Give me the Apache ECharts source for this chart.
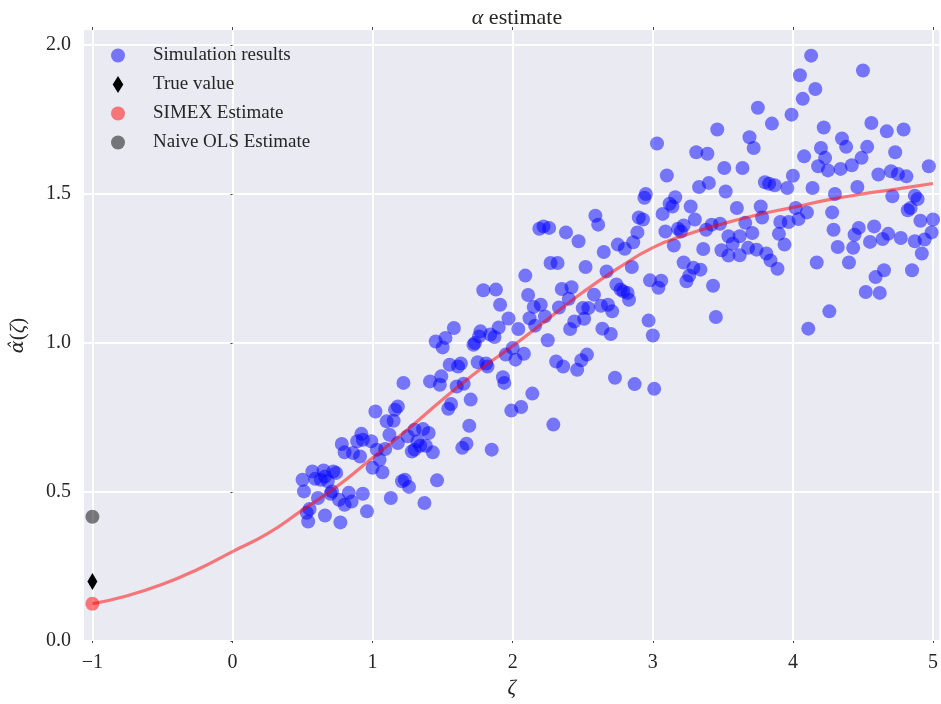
<!DOCTYPE html>
<html>
<head>
<meta charset="utf-8">
<script src="https://cdn.jsdelivr.net/npm/echarts@6/dist/echarts.min.js"></script>
<style>html,body{margin:0;padding:0;background:#fff}#c{width:941px;height:704px}</style>
</head>
<body>
<div id="c"></div>
<script>
// ---- data ----
const xTicks = [-1, 0, 1, 2, 3, 4, 5];
const yTicks = [0, 0.5, 1.0, 1.5, 2.0];

const simZeta = [
1.22,1.41,1.48,1.49,1.02,1.18,1.16,1.10,1.15,1.12,0.92,0.89,0.99,0.93,0.78,0.80,0.86,0.91,1.03,1.09,
1.05,1.00,1.07,1.18,1.25,1.30,1.36,1.40,1.32,1.34,1.38,1.43,1.28,1.30,1.21,1.23,1.26,1.46,1.13,1.37,
0.93,0.96,0.83,0.85,0.80,0.76,0.77,0.66,0.54,0.53,0.55,0.61,0.70,0.71,0.50,0.51,0.57,0.59,0.63,0.65,
0.68,0.72,0.74,0.66,
2.19,2.22,2.26,2.38,2.47,2.27,2.32,2.52,2.09,1.79,1.88,1.91,2.11,2.35,2.42,2.40,2.15,2.20,2.33,2.50,
2.54,2.12,2.23,1.97,2.16,2.44,2.51,2.41,2.04,1.90,1.77,1.76,1.84,1.87,1.58,1.52,1.45,1.50,1.72,1.73,
2.25,2.00,1.95,2.02,2.08,1.75,1.81,1.82,1.55,1.61,1.63,1.60,1.65,1.93,1.94,2.31,2.36,2.46,2.49,2.53,
1.70,1.56,1.54,2.14,2.06,1.99,1.69,2.29,1.67,1.64,1.85,
3.46,3.03,3.31,3.39,3.51,3.10,3.33,3.40,3.52,2.95,2.94,3.16,3.12,3.14,3.07,3.27,3.30,2.59,2.61,2.90,
2.93,2.89,2.86,2.75,2.80,2.65,3.09,3.18,3.20,3.22,3.38,3.42,3.48,3.54,3.15,3.36,3.49,3.54,2.67,2.85,
3.22,3.29,3.34,3.26,3.24,2.98,3.06,3.04,3.43,2.74,2.77,2.79,2.82,2.83,2.58,2.63,2.68,2.71,2.97,3.00,
2.64,2.70,3.45,2.73,2.87,3.01,
4.13,4.50,4.05,4.16,4.07,3.75,3.99,3.85,4.22,4.56,4.67,4.79,3.69,3.72,4.35,4.38,4.20,4.53,4.73,4.08,
4.23,4.49,4.18,4.25,4.34,4.42,3.64,4.00,4.61,4.70,4.75,4.81,4.97,3.80,3.83,3.87,3.96,4.14,4.46,4.30,
4.71,4.87,4.89,
3.60,3.77,3.78,4.02,4.10,4.04,3.97,3.91,4.28,4.29,4.82,4.84,4.91,5.00,3.66,3.62,3.71,3.90,3.94,3.57,
3.62,3.68,3.74,3.81,3.84,3.89,4.47,4.44,4.58,4.68,4.64,4.55,4.77,4.87,4.94,4.99,4.92,4.32,4.43,4.17,
4.40,4.65,4.59,4.85,4.52,4.62,4.26,4.11
];
const simAlpha = [
0.866,0.871,0.860,0.888,0.770,0.787,0.776,0.737,0.739,0.692,0.695,0.670,0.670,0.675,0.661,0.633,0.631,0.619,0.642,0.644,
0.608,0.581,0.566,0.664,0.687,0.709,0.711,0.698,0.670,0.655,0.655,0.633,0.636,0.642,0.536,0.541,0.517,0.539,0.480,0.463,
0.494,0.435,0.497,0.468,0.457,0.474,0.398,0.421,0.401,0.430,0.443,0.480,0.494,0.502,0.541,0.502,0.569,0.544,0.541,0.572,
0.536,0.569,0.564,0.552,
1.383,1.391,1.386,1.371,1.341,1.268,1.268,1.255,1.226,1.177,1.179,1.128,1.161,1.181,1.187,1.148,1.121,1.128,1.119,1.117,
1.117,1.083,1.089,1.082,1.058,1.072,1.081,1.047,1.047,1.052,1.039,1.022,1.028,1.020,1.050,1.017,1.005,0.985,0.994,1.000,
1.009,0.983,0.961,0.944,0.964,0.935,0.931,0.921,0.927,0.921,0.931,0.854,0.863,0.885,0.866,0.938,0.921,0.910,0.942,0.961,
0.810,0.795,0.779,0.830,0.785,0.773,0.722,0.726,0.662,0.648,0.642,
1.716,1.669,1.640,1.635,1.587,1.562,1.523,1.537,1.508,1.500,1.487,1.489,1.467,1.458,1.433,1.458,1.414,1.427,1.397,1.421,
1.414,1.371,1.338,1.330,1.316,1.305,1.374,1.383,1.374,1.394,1.380,1.397,1.400,1.358,1.327,1.315,1.311,1.293,1.240,1.255,
1.270,1.252,1.246,1.226,1.207,1.210,1.209,1.185,1.192,1.196,1.179,1.173,1.168,1.145,1.162,1.125,1.128,1.106,1.075,1.025,
1.048,1.030,1.087,0.883,0.862,0.846,
1.964,1.914,1.898,1.852,1.819,1.789,1.766,1.736,1.723,1.738,1.710,1.716,1.690,1.654,1.686,1.658,1.654,1.658,1.640,1.626,
1.621,1.621,1.593,1.579,1.584,1.596,1.587,1.561,1.565,1.576,1.567,1.559,1.593,1.539,1.534,1.529,1.520,1.520,1.523,1.500,
1.492,1.494,1.483,
1.453,1.458,1.421,1.453,1.438,1.416,1.406,1.406,1.438,1.380,1.445,1.453,1.410,1.414,1.403,1.358,1.369,1.366,1.330,1.333,
1.294,1.319,1.313,1.300,1.277,1.249,1.386,1.363,1.391,1.366,1.349,1.339,1.352,1.341,1.347,1.371,1.300,1.322,1.319,1.270,
1.270,1.244,1.221,1.244,1.171,1.168,1.106,1.048
];

const curveZeta  = [-1,-0.75,-0.5,-0.25,0,0.25,0.5,0.75,1,1.25,1.5,1.75,2,2.25,2.5,2.75,3,3.25,3.5,3.75,4,4.25,4.5,4.75,5];
const curveAlpha = [0.125,0.152,0.19,0.24,0.30,0.36,0.44,0.52,0.615,0.71,0.81,0.905,0.99,1.08,1.17,1.25,1.32,1.365,1.40,1.43,1.455,1.48,1.50,1.517,1.535];

const estZeta = -1;
const trueAlpha = 0.2;
const simexAlpha = 0.125;
const naiveAlpha = 0.417;

// ---- chart ----
const FONT = "'Liberation Serif', 'DejaVu Serif', serif";
const TXT = '#262626';
const simData = simZeta.map((z, i) => [z, simAlpha[i]]);
const curveData = curveZeta.map((z, i) => [z, curveAlpha[i]]);
const diamond = 'path://M5,0L10,8L5,16L0,8Z';

const chart = echarts.init(document.getElementById('c'), null, {renderer: 'canvas'});
chart.setOption({
  animation: false,
  backgroundColor: '#ffffff',
  title: {
    text: '{i|α} estimate',
    left: 512, top: 2, textAlign: 'center',
    textStyle: {
      fontFamily: FONT, fontSize: 22, fontWeight: 'normal', color: TXT,
      rich: {i: {fontFamily: FONT, fontSize: 22, fontStyle: 'italic', color: TXT}}
    }
  },
  grid: {left: 81, right: 0, top: 30, bottom: 63, show: true, backgroundColor: '#EAEAF2', borderWidth: 0},
  legend: {
    orient: 'vertical', left: 111, top: 46, padding: 0,
    itemWidth: 14, itemHeight: 17, itemGap: 10, selectedMode: false,
    data: [
      {name: 'Simulation results', icon: 'circle'},
      {name: 'True value', icon: diamond},
      {name: 'SIMEX Estimate', icon: 'circle'},
      {name: 'Naive OLS Estimate', icon: 'circle'}
    ],
    formatter: n => '{t|' + n + '}',
    textStyle: {rich: {t: {fontFamily: FONT, fontSize: 19, color: TXT, padding: [0, 0, 0, 23], lineHeight: 17}}}
  },
  xAxis: [{
    type: 'value', min: -1.06, max: 5.045, position: 'bottom',
    axisLine: {show: false},
    axisTick: {show: true, length: 2, lineStyle: {color: '#444'}, customValues: xTicks},
    axisLabel: {
      customValues: xTicks, fontFamily: FONT, fontSize: 20, color: TXT, margin: 12,
      formatter: v => (v < 0 ? '\u2212' + Math.abs(v) : String(v))
    },
    splitLine: {show: true, lineStyle: {color: '#ffffff', width: 2}},
    name: '{i|ζ}', nameLocation: 'middle', nameGap: 36,
    nameTextStyle: {fontFamily: FONT, fontSize: 21, color: TXT,
      rich: {i: {fontFamily: FONT, fontSize: 21, fontStyle: 'italic', color: TXT}}}
  }, {
    type: 'value', min: -1.06, max: 5.045, position: 'top',
    axisLine: {show: false},
    axisTick: {show: true, length: 3, lineStyle: {color: '#444'}, customValues: xTicks},
    axisLabel: {show: false, customValues: xTicks},
    splitLine: {show: false}
  }],
  yAxis: {
    type: 'value', min: 0, max: 2.05,
    axisLine: {show: false},
    axisTick: {show: true, length: 2, lineStyle: {color: '#444'}, customValues: yTicks},
    axisLabel: {customValues: yTicks, fontFamily: FONT, fontSize: 20, color: TXT, margin: 13,
      formatter: v => v.toFixed(1)},
    splitLine: {show: true, lineStyle: {color: '#ffffff', width: 2}},
    name: '{h|α\u0302}{p|(}{i|ζ}{p|)}', nameLocation: 'middle', nameRotate: 90, nameGap: 55,
    nameTextStyle: {fontFamily: FONT, fontSize: 21, color: TXT,
      rich: {
        h: {fontFamily: "'DejaVu Serif', serif", fontSize: 19, fontStyle: 'italic', color: TXT},
        p: {fontFamily: FONT, fontSize: 21, color: TXT},
        i: {fontFamily: FONT, fontSize: 21, fontStyle: 'italic', color: TXT}
      }}
  },
  series: [
    {
      name: 'Simulation results', type: 'scatter', data: simData, symbol: 'circle', symbolSize: 14,
      itemStyle: {color: 'rgba(0,0,255,0.5)', opacity: 1}, z: 2
    },
    {
      name: 'SIMEX curve', type: 'line', data: curveData, smooth: true, showSymbol: false,
      lineStyle: {color: 'rgba(255,0,0,0.5)', width: 3.2}, itemStyle: {color: 'rgba(255,0,0,0.5)'}, z: 3
    },
    {
      name: 'True value', type: 'scatter', data: [[estZeta, trueAlpha]], symbol: diamond, symbolSize: [10, 17],
      symbolKeepAspect: false, itemStyle: {color: '#000000', opacity: 1}, z: 4
    },
    {
      name: 'SIMEX Estimate', type: 'scatter', data: [[estZeta, simexAlpha]], symbol: 'circle', symbolSize: 14,
      itemStyle: {color: 'rgba(255,0,0,0.5)', opacity: 1}, z: 4
    },
    {
      name: 'Naive OLS Estimate', type: 'scatter', data: [[estZeta, naiveAlpha]], symbol: 'circle', symbolSize: 14,
      itemStyle: {color: 'rgba(0,0,0,0.5)', opacity: 1}, z: 4
    }
  ]
});
</script>
</body>
</html>
